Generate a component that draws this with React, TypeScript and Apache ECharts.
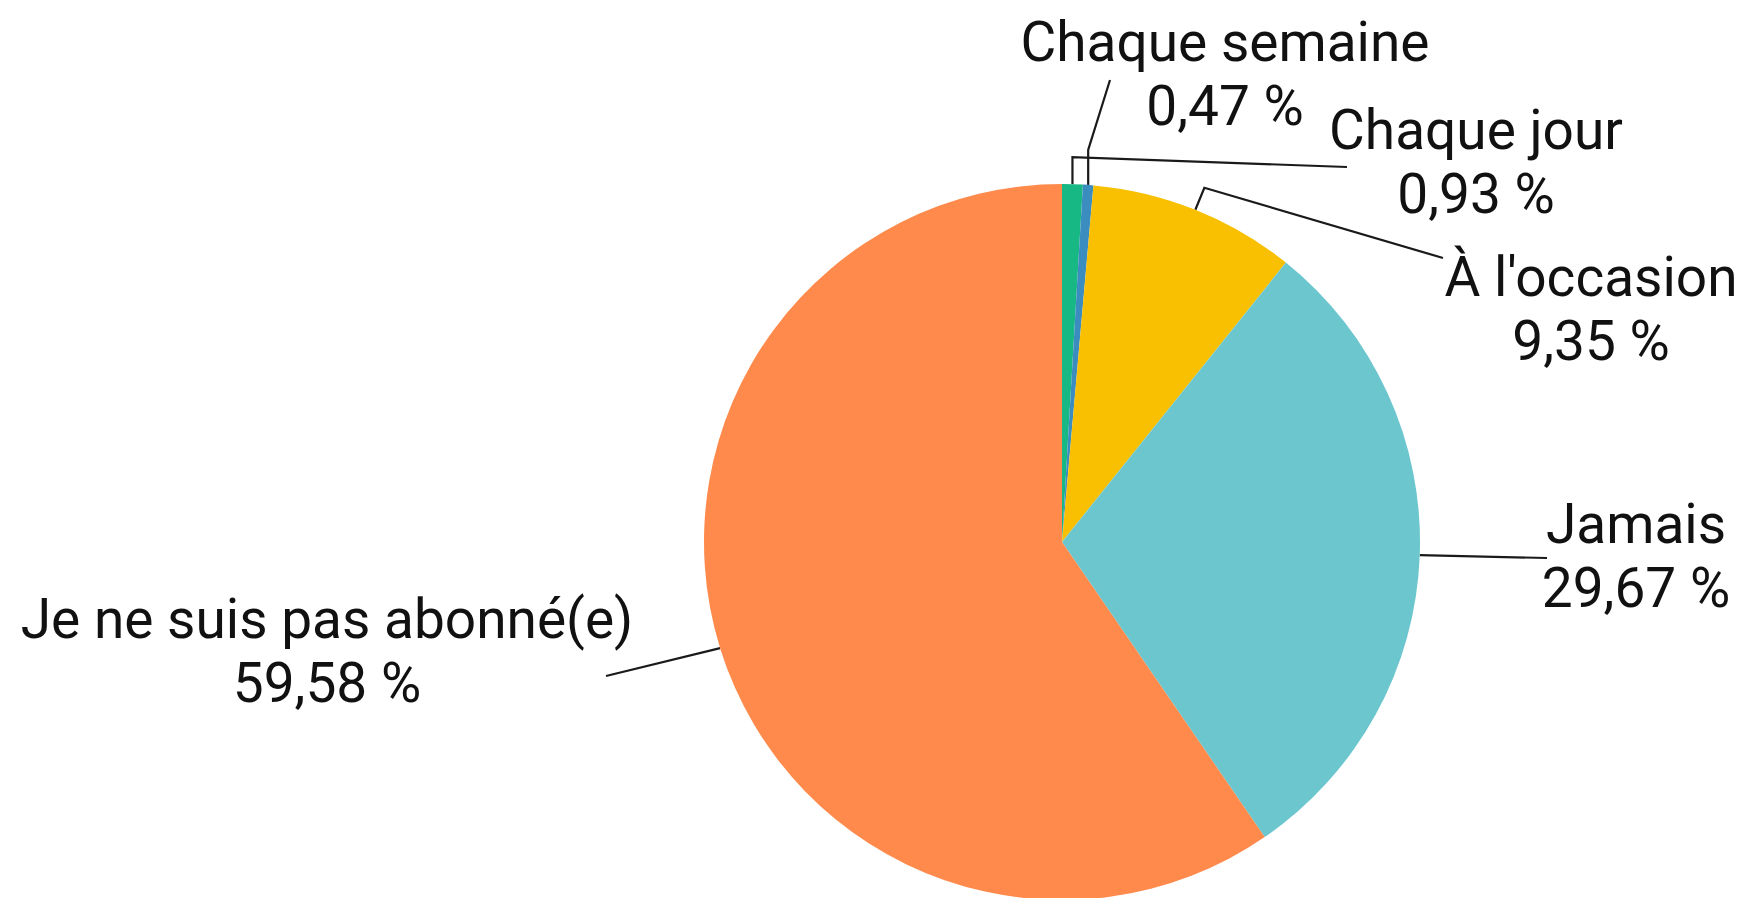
import React, { useEffect, useRef } from "react";
import * as echarts from "echarts";

const categories = [
  "Chaque jour",
  "Chaque semaine",
  "À l'occasion",
  "Jamais",
  "Je ne suis pas abonné(e)",
];
const values = [0.93, 0.47, 9.35, 29.67, 59.58];
const colors = ["#17b883", "#3b8dc0", "#f8c000", "#6cc6ce", "#ff8a4b"];

// label block centres and extra label-line points (layout only)
const labelPos: [number, number][] = [
  [1476, 162],
  [1225, 74],
  [1591, 309],
  [1636, 556],
  [327, 651],
];
const lineExtra: [number, number][][] = [
  [[0, -27], [1347, 167]],
  [[0, -35], [1110, 80]],
  [[9, -22], [1443, 258]],
  [[1547, 558]],
  [[606, 676]],
];

export default function App() {
  const ref = useRef<HTMLDivElement>(null);
  useEffect(() => {
    if (!ref.current) return;
    const chart = echarts.init(ref.current, null, { renderer: "svg" });
    chart.setOption({
      animation: false,
      backgroundColor: "#ffffff",
      series: [
        {
          type: "pie",
          center: [1062, 542],
          radius: 358,
          startAngle: 90,
          clockwise: true,
          avoidLabelOverlap: false,
          data: categories.map((c, i) => ({
            name: c,
            value: values[i],
            itemStyle: { color: colors[i] },
          })),
          label: {
            show: true,
            position: "outside",
            formatter: (p: any) =>
              `${p.name}\n${Number(p.value).toFixed(2).replace(".", ",")} %`,
            fontFamily: "Roboto",
            fontSize: 55,
            lineHeight: 64,
            color: "#111111",
            align: "center",
          },
          labelLine: {
            show: true,
            length: 20,
            length2: 20,
            lineStyle: { color: "#1a1a1a", width: 2.2 },
          },
          labelLayout: (params: any) => {
            const i = params.dataIndex;
            const start = params.labelLinePoints
              ? params.labelLinePoints[0]
              : [0, 0];
            const pts: number[][] = [[start[0], start[1]]];
            lineExtra[i].forEach((p, k) => {
              if (k === 0 && lineExtra[i].length > 1 && i <= 2) {
                pts.push([start[0] + p[0], start[1] + p[1]]);
              } else {
                pts.push([p[0], p[1]]);
              }
            });
            return {
              x: labelPos[i][0],
              y: labelPos[i][1],
              align: "center",
              verticalAlign: "middle",
              labelLinePoints: pts,
            };
          },
        },
      ],
    });
    return () => chart.dispose();
  }, []);
  return (
    <div
      ref={ref}
      style={{ position: "fixed", left: 0, top: 0, width: 1751, height: 898 }}
    />
  );
}
